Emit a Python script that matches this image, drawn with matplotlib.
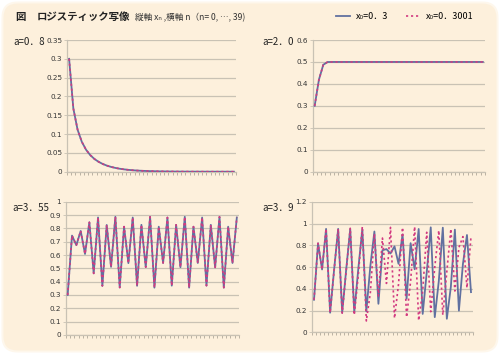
import numpy as np
import matplotlib
matplotlib.use("Agg")
import matplotlib.pyplot as plt
from matplotlib.patches import FancyBboxPatch

plt.rcParams['font.family'] = ['Noto Sans CJK JP', 'DejaVu Sans']

# --- data: x_n for n = 0..39, two starting values ---
n = list(range(40))

a08_x03 = [0.3, 0.168, 0.1118, 0.0795, 0.0585, 0.0441, 0.0337, 0.0261, 0.0203, 0.0159,
           0.0125, 0.0099, 0.0078, 0.0062, 0.0049, 0.0039, 0.0031, 0.0025, 0.0020, 0.0016,
           0.0013, 0.0010, 0.0008, 0.00065, 0.00052, 0.00042, 0.00033, 0.00027, 0.00021, 0.00017,
           0.00014, 0.00011, 0.00009, 0.00007, 0.00006, 0.00005, 0.00004, 0.00003, 0.00002, 0.00002]
a08_x03001 = [0.3001, 0.1680, 0.1118, 0.0795, 0.0585, 0.0441, 0.0337, 0.0261, 0.0203, 0.0159,
              0.0125, 0.0099, 0.0078, 0.0062, 0.0049, 0.0039, 0.0031, 0.0025, 0.0020, 0.0016,
              0.0013, 0.0010, 0.0008, 0.00065, 0.00052, 0.00042, 0.00033, 0.00027, 0.00021, 0.00017,
              0.00014, 0.00011, 0.00009, 0.00007, 0.00006, 0.00005, 0.00004, 0.00003, 0.00002, 0.00002]

a20_x03 = [0.3, 0.42, 0.4872, 0.4997, 0.5, 0.5, 0.5, 0.5, 0.5, 0.5,
           0.5, 0.5, 0.5, 0.5, 0.5, 0.5, 0.5, 0.5, 0.5, 0.5,
           0.5, 0.5, 0.5, 0.5, 0.5, 0.5, 0.5, 0.5, 0.5, 0.5,
           0.5, 0.5, 0.5, 0.5, 0.5, 0.5, 0.5, 0.5, 0.5, 0.5]
a20_x03001 = [0.3001, 0.4200, 0.4872, 0.4997, 0.5, 0.5, 0.5, 0.5, 0.5, 0.5,
              0.5, 0.5, 0.5, 0.5, 0.5, 0.5, 0.5, 0.5, 0.5, 0.5,
              0.5, 0.5, 0.5, 0.5, 0.5, 0.5, 0.5, 0.5, 0.5, 0.5,
              0.5, 0.5, 0.5, 0.5, 0.5, 0.5, 0.5, 0.5, 0.5, 0.5]

a355_x03 = [0.300, 0.746, 0.674, 0.781, 0.608, 0.846, 0.462, 0.882, 0.368, 0.826,
            0.511, 0.887, 0.356, 0.813, 0.539, 0.882, 0.369, 0.827, 0.509, 0.887,
            0.355, 0.813, 0.540, 0.882, 0.370, 0.827, 0.508, 0.887, 0.355, 0.813,
            0.540, 0.882, 0.370, 0.827, 0.507, 0.887, 0.355, 0.813, 0.540, 0.882]
a355_x03001 = [0.3001, 0.746, 0.674, 0.781, 0.608, 0.846, 0.462, 0.882, 0.368, 0.826,
               0.511, 0.887, 0.356, 0.813, 0.539, 0.882, 0.369, 0.827, 0.509, 0.887,
               0.355, 0.813, 0.540, 0.882, 0.370, 0.827, 0.508, 0.887, 0.355, 0.813,
               0.540, 0.882, 0.370, 0.827, 0.507, 0.887, 0.355, 0.813, 0.540, 0.882]

a39_x03 = [0.300, 0.819, 0.578, 0.951, 0.181, 0.578, 0.951, 0.181, 0.579, 0.951,
           0.183, 0.584, 0.947, 0.194, 0.611, 0.927, 0.263, 0.755, 0.765, 0.725,
           0.790, 0.630, 0.900, 0.310, 0.820, 0.580, 0.950, 0.170, 0.550, 0.965,
           0.140, 0.470, 0.962, 0.125, 0.420, 0.944, 0.200, 0.630, 0.895, 0.370]
a39_x03001 = [0.3001, 0.819, 0.578, 0.951, 0.180, 0.576, 0.952, 0.177, 0.568, 0.957,
              0.161, 0.526, 0.972, 0.105, 0.367, 0.906, 0.334, 0.867, 0.450, 0.965,
              0.131, 0.444, 0.963, 0.140, 0.469, 0.971, 0.110, 0.380, 0.920, 0.190,
              0.600, 0.936, 0.160, 0.560, 0.950, 0.380, 0.780, 0.880, 0.410, 0.880]

panels = [
    ("a=0．8", a08_x03, a08_x03001, 0.35, [0, 0.05, 0.1, 0.15, 0.2, 0.25, 0.3, 0.35],
     ["0", "0.05", "0.1", "0.15", "0.2", "0.25", "0.3", "0.35"]),
    ("a=2．0", a20_x03, a20_x03001, 0.6, [0, 0.1, 0.2, 0.3, 0.4, 0.5, 0.6],
     ["0", "0.1", "0.2", "0.3", "0.4", "0.5", "0.6"]),
    ("a=3．55", a355_x03, a355_x03001, 1.0, [0, 0.1, 0.2, 0.3, 0.4, 0.5, 0.6, 0.7, 0.8, 0.9, 1.0],
     ["0", "0.1", "0.2", "0.3", "0.4", "0.5", "0.6", "0.7", "0.8", "0.9", "1"]),
    ("a=3．9", a39_x03, a39_x03001, 1.2, [0, 0.2, 0.4, 0.6, 0.8, 1.0, 1.2],
     ["0", "0.2", "0.4", "0.6", "0.8", "1", "1.2"]),
]

# axes rectangles (figure fraction) and label anchor positions
rects = [[0.134, 0.515, 0.338, 0.372],
         [0.625, 0.515, 0.345, 0.372],
         [0.131, 0.054, 0.347, 0.376],
         [0.624, 0.061, 0.322, 0.369]]
label_pos = [(0.026, 0.880), (0.524, 0.880), (0.024, 0.412), (0.524, 0.412)]

cream = '#fdf0dc'
gridc = '#c9c2b4'
blue = '#6171a0'
pink = '#d23a80'

fig = plt.figure(figsize=(5, 3.54), dpi=100, facecolor='white')

# card background with rounded corners and soft edge
fig.add_artist(FancyBboxPatch((0.015, 0.015), 4.97, 3.51,
                              boxstyle="round,pad=0,rounding_size=0.16",
                              transform=fig.dpi_scale_trans, fc='#fef7ec', ec='none', zorder=0))
fig.add_artist(FancyBboxPatch((0.035, 0.035), 4.93, 3.47,
                              boxstyle="round,pad=0,rounding_size=0.14",
                              transform=fig.dpi_scale_trans, fc=cream, ec='none', zorder=0))

handles = None
for (lab, s1, s2, ymax, yt, ytl), r, lp in zip(panels, rects, label_pos):
    ax = fig.add_axes(r)
    ax.patch.set_alpha(0)
    l1, = ax.plot(n, s1, color=blue, lw=1.3, label="x₀=0．3", zorder=3)
    l2, = ax.plot(n, s2, color=pink, lw=1.2, ls=(0, (1.3, 1.7)), label="x₀=0．3001", zorder=4)
    if handles is None:
        handles = [l1, l2]
    ax.set_xlim(-0.5, 39.5)
    ax.set_xticks(np.arange(-0.5, 40, 1))
    ax.set_xticklabels([])
    ax.set_ylim(0, ymax)
    ax.set_yticks(yt)
    ax.set_yticklabels(ytl, family=['DejaVu Sans'])
    ax.grid(axis='y', color=gridc, lw=0.9, zorder=1)
    ax.set_axisbelow(True)
    for s in ['top', 'right']:
        ax.spines[s].set_visible(False)
    for s in ['left', 'bottom']:
        ax.spines[s].set_color(gridc)
        ax.spines[s].set_linewidth(0.9)
    ax.tick_params(axis='x', direction='out', length=1.8, width=0.6, color='#b0a898')
    ax.tick_params(axis='y', direction='out', length=2, width=0.6, color=gridc,
                   labelsize=5.2, labelcolor='#333333', pad=1.5)
    fig.text(lp[0], lp[1], lab, fontsize=7, color='#222222', va='center', ha='left')

# title
fig.text(0.031, 0.952, "図", fontsize=7.5, fontweight='bold', color='#222222', va='center')
fig.text(0.074, 0.952, "ロジスティック写像", fontsize=7.5, fontweight='bold', color='#222222', va='center')
fig.text(0.270, 0.950, "縦軸 xₙ ,横軸 n（n= 0, …, 39)", fontsize=6.2, color='#333333', va='center')

fig.legend(handles=handles, loc='center left', bbox_to_anchor=(0.672, 0.952), ncol=2,
           frameon=False, handlelength=1.6, handletextpad=0.6,
           columnspacing=2.0, borderpad=0, borderaxespad=0,
           prop={'family': ['Noto Sans CJK JP', 'DejaVu Sans'], 'size': 6.5})

fig.savefig("out.png", dpi=100, facecolor='white')
